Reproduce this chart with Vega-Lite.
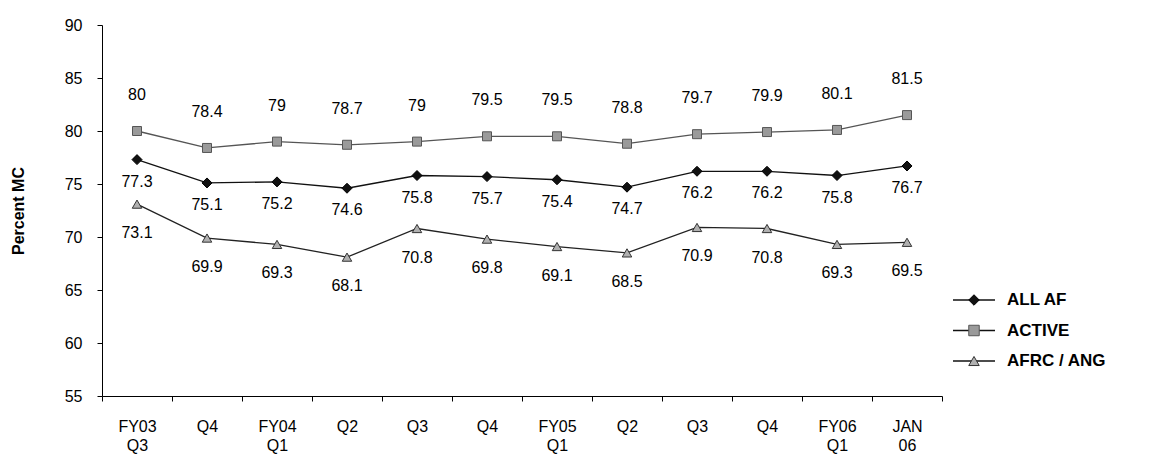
{
  "$schema": "https://vega.github.io/schema/vega-lite/v6.json",
  "padding": {"left": 10, "top": 17, "right": 0, "bottom": 4},
  "background": "white",
  "bounds": "flush",
  "spacing": 0,
  "config": {
    "view": {"stroke": null},
    "font": "Liberation Sans",
    "axis": {
      "domainColor": "#000",
      "tickColor": "#000",
      "labelColor": "#000",
      "titleColor": "#000",
      "grid": false,
      "labelFont": "Liberation Sans",
      "titleFont": "Liberation Sans"
    }
  },
  "resolve": {
    "scale": {"x": "independent", "y": "independent", "shape": "independent", "fill": "independent", "stroke": "independent"}
  },
  "hconcat": [
    {
      "width": 840,
      "height": 371,
      "data": {
        "values": [
          {"period": "FY03 Q3", "series": "ALL AF", "value": 77.3},
          {"period": "FY03 Q4", "series": "ALL AF", "value": 75.1},
          {"period": "FY04 Q1", "series": "ALL AF", "value": 75.2},
          {"period": "FY04 Q2", "series": "ALL AF", "value": 74.6},
          {"period": "FY04 Q3", "series": "ALL AF", "value": 75.8},
          {"period": "FY04 Q4", "series": "ALL AF", "value": 75.7},
          {"period": "FY05 Q1", "series": "ALL AF", "value": 75.4},
          {"period": "FY05 Q2", "series": "ALL AF", "value": 74.7},
          {"period": "FY05 Q3", "series": "ALL AF", "value": 76.2},
          {"period": "FY05 Q4", "series": "ALL AF", "value": 76.2},
          {"period": "FY06 Q1", "series": "ALL AF", "value": 75.8},
          {"period": "JAN 06", "series": "ALL AF", "value": 76.7},
          {"period": "FY03 Q3", "series": "ACTIVE", "value": 80},
          {"period": "FY03 Q4", "series": "ACTIVE", "value": 78.4},
          {"period": "FY04 Q1", "series": "ACTIVE", "value": 79},
          {"period": "FY04 Q2", "series": "ACTIVE", "value": 78.7},
          {"period": "FY04 Q3", "series": "ACTIVE", "value": 79},
          {"period": "FY04 Q4", "series": "ACTIVE", "value": 79.5},
          {"period": "FY05 Q1", "series": "ACTIVE", "value": 79.5},
          {"period": "FY05 Q2", "series": "ACTIVE", "value": 78.8},
          {"period": "FY05 Q3", "series": "ACTIVE", "value": 79.7},
          {"period": "FY05 Q4", "series": "ACTIVE", "value": 79.9},
          {"period": "FY06 Q1", "series": "ACTIVE", "value": 80.1},
          {"period": "JAN 06", "series": "ACTIVE", "value": 81.5},
          {"period": "FY03 Q3", "series": "AFRC / ANG", "value": 73.1},
          {"period": "FY03 Q4", "series": "AFRC / ANG", "value": 69.9},
          {"period": "FY04 Q1", "series": "AFRC / ANG", "value": 69.3},
          {"period": "FY04 Q2", "series": "AFRC / ANG", "value": 68.1},
          {"period": "FY04 Q3", "series": "AFRC / ANG", "value": 70.8},
          {"period": "FY04 Q4", "series": "AFRC / ANG", "value": 69.8},
          {"period": "FY05 Q1", "series": "AFRC / ANG", "value": 69.1},
          {"period": "FY05 Q2", "series": "AFRC / ANG", "value": 68.5},
          {"period": "FY05 Q3", "series": "AFRC / ANG", "value": 70.9},
          {"period": "FY05 Q4", "series": "AFRC / ANG", "value": 70.8},
          {"period": "FY06 Q1", "series": "AFRC / ANG", "value": 69.3},
          {"period": "JAN 06", "series": "AFRC / ANG", "value": 69.5}
        ]
      },
      "encoding": {
        "x": {
          "field": "period",
          "type": "ordinal",
          "sort": ["FY03 Q3", "FY03 Q4", "FY04 Q1", "FY04 Q2", "FY04 Q3", "FY04 Q4", "FY05 Q1", "FY05 Q2", "FY05 Q3", "FY05 Q4", "FY06 Q1", "JAN 06"],
          "scale": {"type": "band", "paddingInner": 0, "paddingOuter": 0},
          "axis": {
            "title": null,
            "labelAngle": 0,
            "labelFontSize": 16,
            "labelLineHeight": 19,
            "labelPadding": 17,
            "tickSize": 5,
            "tickBand": "extent",
            "labelExpr": "!isString(datum.value) ? '' : ((datum.value == 'FY03 Q3' || datum.value == 'JAN 06' || indexof(datum.value, 'Q1') >= 0) ? split(datum.value, ' ') : split(datum.value, ' ')[1])"
          }
        },
        "y": {
          "field": "value",
          "type": "quantitative",
          "scale": {"domain": [55, 90], "nice": false, "zero": false},
          "axis": {
            "title": "Percent MC",
            "titleFontSize": 16,
            "titleFontWeight": "bold",
            "titlePadding": 38,
            "values": [55, 60, 65, 70, 75, 80, 85, 90],
            "labelFontSize": 16,
            "labelPadding": 15,
            "tickSize": 5
          }
        }
      },
      "layer": [
        {
          "mark": {"type": "line", "strokeWidth": 1.3},
          "encoding": {
            "stroke": {
              "field": "series",
              "type": "nominal",
              "scale": {"domain": ["ALL AF", "ACTIVE", "AFRC / ANG"], "range": ["#111111", "#555555", "#222222"]},
              "legend": null
            }
          }
        },
        {
          "transform": [{"filter": "datum.series == 'ALL AF'"}],
          "mark": {"type": "point", "shape": "diamond", "size": 100, "filled": true, "fill": "#111111", "stroke": "#000000", "strokeWidth": 1, "opacity": 1},
          "encoding": {}
        },
        {
          "transform": [{"filter": "datum.series == 'ACTIVE'"}],
          "mark": {"type": "point", "shape": "square", "size": 81, "filled": true, "fill": "#9a9a9a", "stroke": "#555555", "strokeWidth": 1, "opacity": 1},
          "encoding": {}
        },
        {
          "transform": [{"filter": "datum.series == 'AFRC / ANG'"}],
          "mark": {"type": "point", "shape": "triangle-up", "size": 90, "filled": true, "fill": "#b0b0b0", "stroke": "#333333", "strokeWidth": 1, "opacity": 1},
          "encoding": {}
        },
        {
          "transform": [{"filter": "datum.series == 'ACTIVE'"}],
          "mark": {"type": "text", "dy": -36, "fontSize": 16, "fill": "#000", "baseline": "middle"},
          "encoding": {"text": {"field": "value", "type": "nominal"}}
        },
        {
          "transform": [{"filter": "datum.series == 'ALL AF'"}],
          "mark": {"type": "text", "dy": 22, "fontSize": 16, "fill": "#000", "baseline": "middle"},
          "encoding": {"text": {"field": "value", "type": "nominal"}}
        },
        {
          "transform": [{"filter": "datum.series == 'AFRC / ANG'"}],
          "mark": {"type": "text", "dy": 29, "fontSize": 16, "fill": "#000", "baseline": "middle"},
          "encoding": {"text": {"field": "value", "type": "nominal"}}
        }
      ]
    },
    {
      "width": 209,
      "height": 371,
      "data": {
        "values": [
          {"series": "ALL AF"},
          {"series": "ACTIVE"},
          {"series": "AFRC / ANG"}
        ]
      },
      "encoding": {
        "y": {
          "field": "series",
          "type": "nominal",
          "scale": {"type": "point", "domain": ["ALL AF", "ACTIVE", "AFRC / ANG"], "range": [275, 336], "padding": 0},
          "axis": null
        }
      },
      "layer": [
        {
          "mark": {"type": "rule", "stroke": "#111111", "strokeWidth": 1.3},
          "encoding": {
            "x": {"datum": 11, "type": "quantitative", "scale": {"domain": [0, 209], "nice": false, "zero": false}, "axis": null},
            "x2": {"datum": 53}
          }
        },
        {
          "mark": {"type": "point", "filled": true, "strokeWidth": 1, "opacity": 1, "size": 110},
          "encoding": {
            "x": {"datum": 32, "type": "quantitative", "scale": {"domain": [0, 209], "nice": false, "zero": false}, "axis": null},
            "shape": {
              "field": "series",
              "type": "nominal",
              "scale": {"domain": ["ALL AF", "ACTIVE", "AFRC / ANG"], "range": ["diamond", "square", "triangle-up"]},
              "legend": null
            },
            "fill": {
              "field": "series",
              "type": "nominal",
              "scale": {"domain": ["ALL AF", "ACTIVE", "AFRC / ANG"], "range": ["#111111", "#9a9a9a", "#b0b0b0"]},
              "legend": null
            },
            "stroke": {
              "field": "series",
              "type": "nominal",
              "scale": {"domain": ["ALL AF", "ACTIVE", "AFRC / ANG"], "range": ["#000000", "#555555", "#333333"]},
              "legend": null
            }
          }
        },
        {
          "mark": {"type": "text", "align": "left", "baseline": "middle", "fontSize": 17, "fontWeight": "bold", "fill": "#000"},
          "encoding": {
            "x": {"datum": 65, "type": "quantitative", "scale": {"domain": [0, 209], "nice": false, "zero": false}, "axis": null},
            "text": {"field": "series", "type": "nominal"}
          }
        }
      ]
    }
  ]
}
